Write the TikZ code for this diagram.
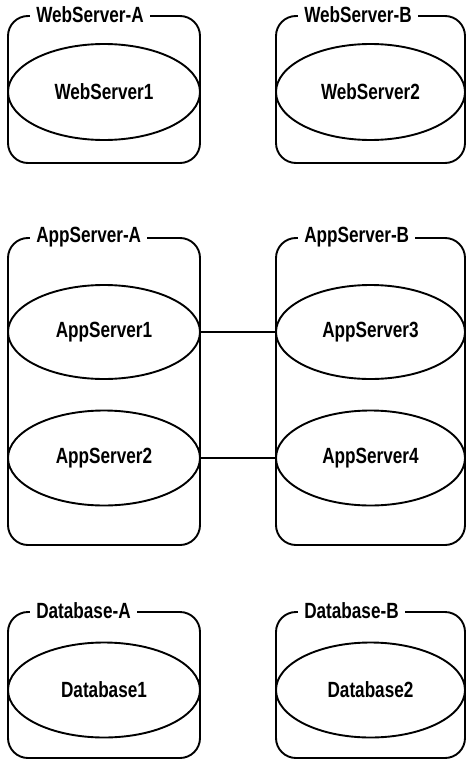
\documentclass[tikz,border=0pt]{standalone}
\usepackage{fontspec}
\setmainfont{Liberation Sans}[FakeStretch=0.78, UprightFont=*-Bold]
\usetikzlibrary{shapes.geometric}
\tikzset{
  grp/.style={draw, line width=1.9pt, rounded corners=20pt, inner sep=0pt},
  srv/.style={draw, ellipse, line width=1.9pt, inner sep=0pt, fill=white, font=\fontsize{22}{24}\selectfont},
  grplabel/.style={fill=white, inner xsep=6pt, inner ysep=1pt, anchor=west, font=\fontsize{22}{24}\selectfont},
  link/.style={line width=1.9pt}
}
\begin{document}
\begin{tikzpicture}[x=1pt,y=-1pt]
\useasboundingbox (0,0) rectangle (466,760);
% group boxes
\node[grp, minimum width=192pt, minimum height=147pt] (WA) at (104,89.5) {};
\node[grp, minimum width=189pt, minimum height=147pt] (WB) at (370.5,89.5) {};
\node[grp, minimum width=192pt, minimum height=307pt] (AA) at (104,391.5) {};
\node[grp, minimum width=189pt, minimum height=307pt] (AB) at (370.5,391.5) {};
\node[grp, minimum width=192pt, minimum height=146pt] (DA) at (104,685) {};
\node[grp, minimum width=189pt, minimum height=146pt] (DB) at (370.5,685) {};
% labels
\node[grplabel] (WAl) at ([xshift=23pt]WA.north west) {WebServer-A\hspace{11pt}};
\node[grplabel] (WBl) at ([xshift=23pt]WB.north west) {WebServer-B\hspace{11pt}};
\node[grplabel] (AAl) at ([xshift=23pt]AA.north west) {AppServer-A\hspace{11pt}};
\node[grplabel] (ABl) at ([xshift=23pt]AB.north west) {AppServer-B\hspace{11pt}};
\node[grplabel] (DAl) at ([xshift=23pt]DA.north west) {Database-A\hspace{11pt}};
\node[grplabel] (DBl) at ([xshift=23pt]DB.north west) {Database-B\hspace{11pt}};
% servers
\node[srv, minimum width=192pt, minimum height=96pt] (WS1) at (104,92) {WebServer1};
\node[srv, minimum width=189pt, minimum height=96pt] (WS2) at (370.5,92) {WebServer2};
\node[srv, minimum width=192pt, minimum height=94pt] (AS1) at (104,332) {AppServer1};
\node[srv, minimum width=192pt, minimum height=95pt] (AS2) at (104,458) {AppServer2};
\node[srv, minimum width=189pt, minimum height=94pt] (AS3) at (370.5,332) {AppServer3};
\node[srv, minimum width=189pt, minimum height=95pt] (AS4) at (370.5,458) {AppServer4};
\node[srv, minimum width=192pt, minimum height=95pt] (DB1) at (104,690) {Database1};
\node[srv, minimum width=189pt, minimum height=95pt] (DB2) at (370.5,690) {Database2};
% links
\draw[link] (AS1.east) -- (AS3.west);
\draw[link] (AS2.east) -- (AS4.west);
\end{tikzpicture}
\end{document}
